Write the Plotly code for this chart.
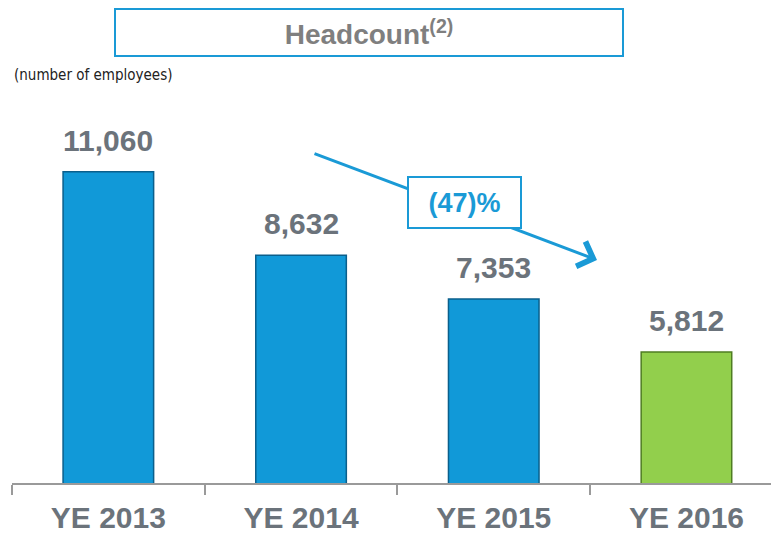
import plotly.graph_objects as go

categories = ["YE 2013", "YE 2014", "YE 2015", "YE 2016"]
headcount = [11060, 8632, 7353, 5812]
value_labels = ["11,060", "8,632", "7,353", "5,812"]
bar_colors = ["#1199d8", "#1199d8", "#1199d8", "#92cf4c"]
bar_edges = ["#0a5f8c", "#0a5f8c", "#0a5f8c", "#4f7d22"]
title_text = "<b>Headcount<sup>(2)</sup></b>"
subtitle_text = "(number of employees)"
change_text = "<b>(47)%</b>"

W, H = 771, 536
ML, MR, MT, MB = 12, 0, 100, 53
pw, ph = W - ML - MR, H - MT - MB

def px(x):
    return (x - ML) / pw

def py(y):
    return (H - MB - y) / ph

fig = go.Figure()
fig.add_trace(go.Bar(
    x=categories, y=headcount, width=0.47,
    marker=dict(color=bar_colors, line=dict(color=bar_edges, width=1.5)),
    hoverinfo="skip",
))

gray = "#6b737b"
for c, v, t in zip(categories, headcount, value_labels):
    fig.add_annotation(x=c, y=v, text="<b>%s</b>" % t, showarrow=False, yanchor="bottom",
                       yshift=13, font=dict(family="Liberation Sans, Arial", size=30, color=gray))

# title box
fig.add_annotation(xref="paper", yref="paper", x=px(369), y=py(32.5), text=title_text,
                   showarrow=False, width=506, height=45, borderwidth=2, borderpad=0,
                   bordercolor="#1a9ad6", bgcolor="white", xanchor="center", yanchor="middle",
                   font=dict(family="Liberation Sans, Arial", size=28, color="#7f7f7f"))
fig.add_annotation(xref="paper", yref="paper", x=px(12), y=py(75), text=subtitle_text,
                   showarrow=False, xanchor="left", yanchor="middle",
                   font=dict(family="Liberation Sans Narrow, DejaVu Sans Condensed, Arial Narrow", size=15, color="#222222"))

# arrow
fig.add_annotation(xref="paper", yref="paper", x=px(597), y=py(260), ax=313 - 597, ay=153 - 260,
                   text="", showarrow=True, arrowhead=4, arrowsize=1.7, arrowwidth=3,
                   arrowcolor="#1a9ad6")
fig.add_annotation(xref="paper", yref="paper", x=px(464.5), y=py(202.5), text=change_text,
                   showarrow=False, width=111, height=49, borderwidth=2, borderpad=0,
                   bordercolor="#1a9ad6", bgcolor="white", xanchor="center", yanchor="middle",
                   font=dict(family="Liberation Sans, Arial", size=27, color="#1a9ad6"))

fig.update_layout(
    width=W, height=H, margin=dict(l=ML, r=MR, t=MT, b=MB),
    plot_bgcolor="white", paper_bgcolor="white", showlegend=False,
    xaxis=dict(type="category", range=[-0.5, -0.5 + pw / 192.7], tickson="boundaries",
               showline=True, linecolor="#9a9a9a", linewidth=2, ticks="outside",
               ticklen=10, tickwidth=2, tickcolor="#9a9a9a", showgrid=False,
               tickfont=dict(family="Liberation Sans, Arial", size=30, color=gray),
               ticklabelstandoff=7, automargin=False,
               tickvals=categories, ticktext=["<b>%s</b>" % c for c in categories]),
    yaxis=dict(range=[2000, 13147], visible=False, showgrid=False),
)
fig.write_html("out.html", config={"displayModeBar": False},
               post_script="document.body.style.margin='0';document.body.style.overflow='hidden';")
